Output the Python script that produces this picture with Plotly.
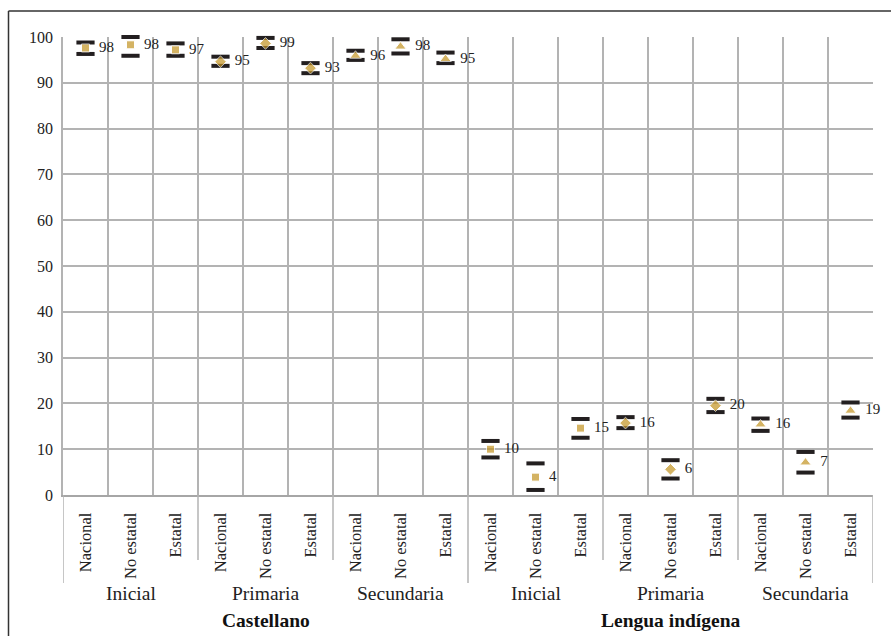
import plotly.graph_objects as go

# ---- data ----
languages = ["Castellano", "Lengua indígena"]
levels = ["Inicial", "Primaria", "Secundaria"]
sectors = ["Nacional", "No estatal", "Estatal"]

cast_value = [97.6, 98.3, 97.2, 94.6, 98.6, 93.2, 95.9, 97.9, 95.2]
cast_upper = [98.8, 100.0, 98.6, 95.7, 99.8, 94.3, 97.0, 99.5, 96.6]
cast_lower = [96.3, 95.9, 95.9, 93.7, 97.6, 92.1, 95.0, 96.4, 94.3]
cast_label = ["98", "98", "97", "95", "99", "93", "96", "98", "95"]

ind_value = [10.0, 3.9, 14.6, 15.7, 5.6, 19.5, 15.4, 7.1, 18.4]
ind_upper = [11.8, 6.9, 16.6, 17.0, 7.6, 21.0, 16.7, 9.4, 20.2]
ind_lower = [8.2, 1.1, 12.5, 14.6, 3.6, 18.1, 14.0, 4.9, 16.9]
ind_label = ["10", "4", "15", "16", "6", "20", "16", "7", "19"]

values = cast_value + ind_value
upper = cast_upper + ind_upper
lower = cast_lower + ind_lower
labels = cast_label + ind_label

n = len(values)
xs = list(range(n))
tick_text = [s for _ in languages for _ in levels for s in sectors]
level_of = [lv for _ in languages for lv in levels for _ in sectors]
symbol_map = {"Inicial": "square", "Primaria": "diamond", "Secundaria": "triangle-up"}
size_map = {"Inicial": 8, "Primaria": 9, "Secundaria": 10}

GOLD = "#C39322"
DARK = "#231F20"
GRID = "#B3B3B3"
FONT = "'Liberation Serif', 'DejaVu Serif', 'Times New Roman', serif"

fig = go.Figure()

# CI caps
for arr in (upper, lower):
    fig.add_trace(go.Scatter(
        x=xs, y=arr, mode="markers", cliponaxis=False, hoverinfo="skip",
        marker=dict(symbol="line-ew", size=13, color=DARK,
                    line=dict(color=DARK, width=4)),
        showlegend=False))

# point estimates with labels
fig.add_trace(go.Scatter(
    x=xs, y=values, mode="markers+text", cliponaxis=False,
    text=["\u2002" + t for t in labels], textposition="middle right",
    textfont=dict(family=FONT, size=15, color="#222"),
    marker=dict(symbol=[symbol_map[l] for l in level_of],
                size=[size_map[l] for l in level_of], color=GOLD),
    showlegend=False))

# plot-area geometry in px (for paper-referenced decorations)
W, H = 891, 636
L, R, T, B = 63, 18, 37, 141
pw, ph = W - L - R, H - T - B


def py(p):
    return (H - B - p) / ph


def px(p):
    return (p - L) / pw


shapes = []
# group separators below the axis
for xb in [-0.5, 8.5, 17.5]:
    shapes.append(dict(type="line", xref="x", yref="paper", x0=xb, x1=xb,
                       y0=0, y1=py(583), line=dict(color=GRID, width=1.5)))
for xb in [2.5, 5.5, 11.5, 14.5]:
    shapes.append(dict(type="line", xref="x", yref="paper", x0=xb, x1=xb,
                       y0=0, y1=py(560), line=dict(color=GRID, width=1.5)))
# outer frame (left and top edges)
shapes.append(dict(type="line", xref="paper", yref="paper", x0=px(8.5), x1=px(8.5),
                   y0=py(640), y1=py(11), line=dict(color="#333", width=1.5)))
shapes.append(dict(type="line", xref="paper", yref="paper", x0=px(8.5), x1=px(895),
                   y0=py(11), y1=py(11), line=dict(color="#333", width=1.5)))

annotations = []
for gi, lang in enumerate(languages):
    for li, lv in enumerate(levels):
        annotations.append(dict(x=gi * 9 + li * 3 + 1, y=py(593), xref="x", yref="paper",
                                text=lv, showarrow=False, yanchor="middle",
                                font=dict(family=FONT, size=19.5, color="#222")))
    annotations.append(dict(x=gi * 9 + 4, y=py(620), xref="x", yref="paper",
                            text="<b>" + lang + "</b>", showarrow=False, yanchor="middle",
                            font=dict(family=FONT, size=19.5, color="#111")))

fig.update_layout(
    width=W, height=H,
    margin=dict(l=L, r=R, t=T, b=B, pad=0),
    paper_bgcolor="white", plot_bgcolor="white",
    shapes=shapes, annotations=annotations,
    font=dict(family=FONT, color="#222"),
)
fig.update_xaxes(
    range=[-0.5, n - 0.5], tickmode="array", tickvals=xs, ticktext=tick_text,
    tickangle=-90, tickfont=dict(family=FONT, size=16.5, color="#222"),
    ticks="outside", ticklen=9, tickcolor="rgba(0,0,0,0)",
    showgrid=False, zeroline=False,
    showline=True, linecolor="#A6A6A6", linewidth=2, mirror=False,
    minor=dict(tick0=-0.5, dtick=1, showgrid=True, gridcolor=GRID, gridwidth=1.5),
)
fig.update_yaxes(
    range=[0, 100], dtick=10, tickfont=dict(family=FONT, size=16, color="#222"),
    ticks="outside", ticklen=5, tickcolor="rgba(0,0,0,0)",
    showgrid=True, gridcolor=GRID, gridwidth=1.5, zeroline=False,
    showline=True, linecolor=GRID, linewidth=1.5,
)

fig.write_html("out.html")
